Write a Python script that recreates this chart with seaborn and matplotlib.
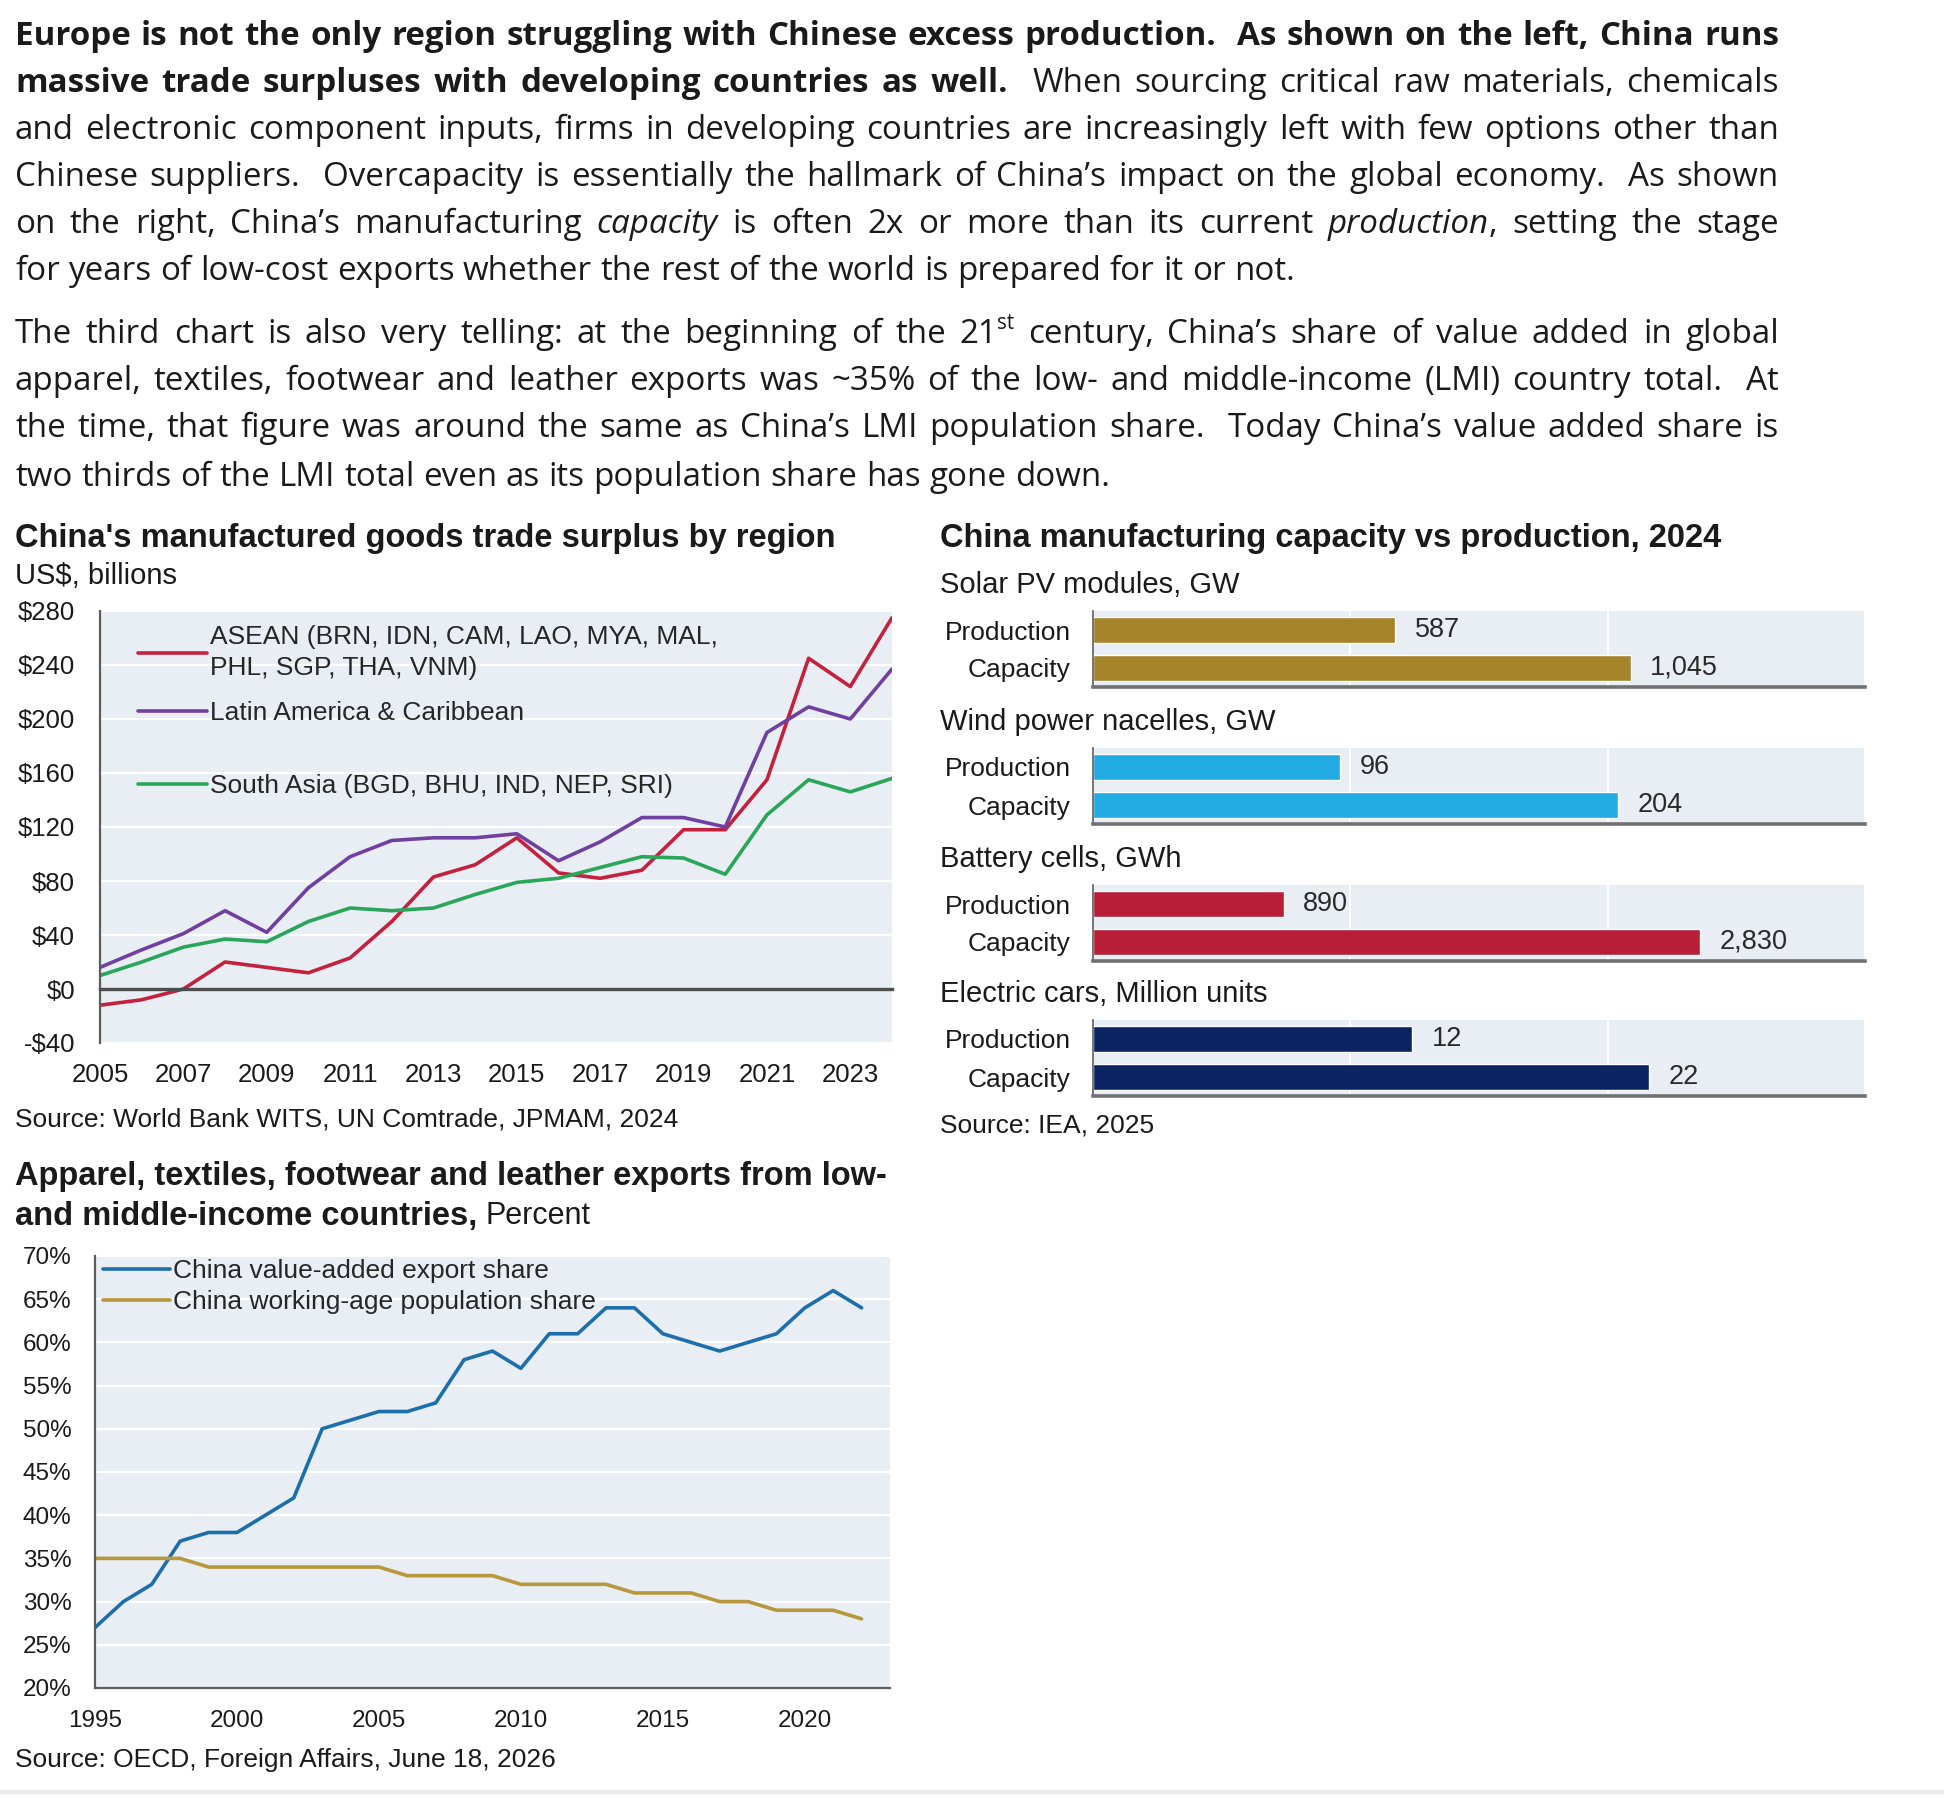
import matplotlib
matplotlib.use("Agg")
import matplotlib.pyplot as plt
from matplotlib.lines import Line2D
import numpy as np
import pandas as pd
import seaborn as sns

W, H, DPI = 1944, 1797, 100

# ── data ────────────────────────────────────────────────────
years_surplus = list(range(2005, 2025))
asean = [-12, -8, 0, 20, 16, 12, 23, 50, 83, 92, 112, 86, 82, 88, 118, 118, 155, 245, 224, 275]
latam = [16, 29, 41, 58, 42, 75, 98, 110, 112, 112, 115, 95, 109, 127, 127, 120, 190, 209, 200, 237]
south_asia = [10, 20, 31, 37, 35, 50, 60, 58, 60, 70, 79, 82, 90, 98, 97, 85, 129, 155, 146, 156]
region_names = ["ASEAN (BRN, IDN, CAM, LAO, MYA, MAL,\nPHL, SGP, THA, VNM)",
                "Latin America & Caribbean",
                "South Asia (BGD, BHU, IND, NEP, SRI)"]
region_colors = ["#c4213f", "#7040a0", "#2aa65a"]

cap_groups = ["Solar PV modules, GW", "Wind power nacelles, GW",
              "Battery cells, GWh", "Electric cars, Million units"]
cap_measures = ["Production", "Capacity"]
cap_production = [587, 96, 890, 12.4]
cap_capacity = [1045, 204, 2830, 21.6]
cap_text_prod = ["587", "96", "890", "12"]
cap_text_cap = ["1,045", "204", "2,830", "22"]
cap_xmax = [1500, 300, 3600, 30]
cap_colors = ["#a5832b", "#22aae2", "#b81f36", "#0c2461"]

years_apparel = list(range(1995, 2023))
va_share = [27, 30, 32, 37, 38, 38, 40, 42, 50, 51, 52, 52, 53, 58, 59, 57, 61, 61,
            64, 64, 61, 60, 59, 60, 61, 64, 66, 64]
pop_share = [35, 35, 35, 35, 34, 34, 34, 34, 34, 34, 34, 33, 33, 33, 33, 32, 32, 32,
             32, 31, 31, 31, 30, 30, 29, 29, 29, 28]
share_names = ["China value-added export share", "China working-age population share"]
share_colors = ["#1c6fab", "#b8983c"]

# ── body text (line breaks as in the original) ──────────────
para_lines = [
    [("Europe is not the only region struggling with Chinese excess production.  As shown on the left, China runs", "b")],
    [("massive trade surpluses with developing countries as well.", "b"), ("  When sourcing critical raw materials, chemicals", "n")],
    [("and electronic component inputs, firms in developing countries are increasingly left with few options other than", "n")],
    [("Chinese suppliers.  Overcapacity is essentially the hallmark of China’s impact on the global economy.  As shown", "n")],
    [("on the right, China’s manufacturing ", "n"), ("capacity", "i"), (" is often 2x or more than its current ", "n"),
     ("production", "i"), (", setting the stage", "n")],
    [("for years of low-cost exports whether the rest of the world is prepared for it or not.", "n")],
    [("The third chart is also very telling: at the beginning of the 21", "n"), ("st", "sup"),
     (" century, China’s share of value added in global", "n")],
    [("apparel, textiles, footwear and leather exports was ~35% of the low- and middle-income (LMI) country total.  At", "n")],
    [("the time, that figure was around the same as China’s LMI population share.  Today China’s value added share is", "n")],
    [("two thirds of the LMI total even as its population share has gone down.", "n")],
]
para_baselines = [45, 92, 139, 186, 233, 280, 343, 390, 437, 486]
para_justify = [True, True, True, True, True, False, True, True, True, False]

PANEL = "#e8eef4"
AXC = "#5c5c5c"
TXT = "#1a1a1a"
BODY_FONT = ["Open Sans", "DejaVu Sans"]
BODY_W = 1764
CH = 19

sns.set_style("white")
plt.rcParams["font.family"] = ["Liberation Sans", "DejaVu Sans"]

fig = plt.figure(figsize=(W / DPI, H / DPI), dpi=DPI)
fig.patch.set_facecolor("white")
renderer = fig.canvas.get_renderer()


def rect(l, t, r, b):
    return [l / W, 1 - b / H, (r - l) / W, (b - t) / H]


def ftext(x, y, s, **kw):
    kw.setdefault("va", "center")
    kw.setdefault("color", TXT)
    return fig.text(x / W, 1 - y / H, s, **kw)


def run_width(s, **kw):
    t = fig.text(0, 0, s, **kw)
    w = t.get_window_extent(renderer).width
    t.remove()
    return w


def piece_kw(style, size):
    kw = dict(family=BODY_FONT, fontsize=size, color=TXT)
    if style == "b":
        kw["fontweight"] = "bold"
    elif style == "i":
        kw["fontstyle"] = "italic"
    elif style == "sup":
        kw["fontsize"] = size * 0.62
    return kw


def split_words(segs):
    words = [[]]
    for text, style in segs:
        for i, p in enumerate(text.split(" ")):
            if i > 0:
                words.append([])
            if p:
                words[-1].append((p, style))
    return words


def line_layout(segs, size):
    words = split_words(segs)
    widths = [sum(run_width(p, **piece_kw(st, size)) for p, st in w) for w in words]
    space = run_width("a a", **piece_kw("n", size)) - run_width("aa", **piece_kw("n", size))
    return words, widths, space


def body_line(segs, baseline, justify, size, x0=15, width=BODY_W):
    words, widths, space = line_layout(segs, size)
    gap = (width - sum(widths)) / (len(words) - 1) if justify else space
    x = x0
    for w, ww in zip(words, widths):
        xx = x
        for p, st in w:
            kw = piece_kw(st, size)
            dy = size * 0.42 * DPI / 72 if st == "sup" else 0
            fig.text(xx / W, 1 - (baseline - dy) / H, p, va="baseline", ha="left", **kw)
            xx += run_width(p, **kw)
        x += ww + gap


# pick the body size so the fullest justified line only just fits
natural = []
for segs, just in zip(para_lines, para_justify):
    if just:
        words, widths, space = line_layout(segs, 20)
        natural.append(sum(widths) + space * (len(words) - 1))
body_size = 20 * BODY_W * 0.985 / max(natural)

for segs, yb, just in zip(para_lines, para_baselines, para_justify):
    body_line(segs, yb, just, body_size)

# ══════════════════════════════════════════════════════════════
# 1. trade surplus by region
# ══════════════════════════════════════════════════════════════
ax1 = fig.add_axes(rect(100, 611, 892, 1043))
surplus = pd.DataFrame({"year": years_surplus, region_names[0]: asean,
                        region_names[1]: latam, region_names[2]: south_asia})
long1 = surplus.melt(id_vars="year", var_name="region", value_name="usd")
sns.lineplot(data=long1, x="year", y="usd", hue="region", hue_order=region_names,
             palette=region_colors, linewidth=2.6, legend=False, ax=ax1)
ax1.set_facecolor(PANEL)
ax1.set_xlim(2005, 2024)
ax1.set_ylim(-40, 280)
yt = np.arange(-40, 281, 40)
ax1.set_yticks(yt)
ax1.set_yticklabels([f"-\\${-v}" if v < 0 else f"\\${v}" for v in yt])
ax1.set_xticks(range(2005, 2024, 2))
ax1.set_xlabel("")
ax1.set_ylabel("")
ax1.grid(axis="y", color="white", linewidth=1.6)
ax1.grid(axis="x", visible=False)
ax1.set_axisbelow(True)
for s in ["top", "right"]:
    ax1.spines[s].set_visible(False)
ax1.spines["bottom"].set_position(("data", 0))
ax1.spines["bottom"].set_color("#4d4d4d")
ax1.spines["bottom"].set_linewidth(2.4)
ax1.spines["left"].set_color(AXC)
ax1.spines["left"].set_linewidth(1.6)
ax1.tick_params(axis="x", direction="out", length=7, width=1.5, color="#333", pad=46,
                labelsize=18.5, labelcolor=TXT)
ax1.tick_params(axis="y", direction="out", length=6, width=1.5, color="#333", pad=12,
                labelsize=18.5, labelcolor=TXT)

leg_a = ax1.legend(ax1.lines[:2], region_names[:2], loc="upper left",
                   bbox_to_anchor=(38 / 792, (1043 - 625) / 432), frameon=False,
                   fontsize=CH, borderpad=0, borderaxespad=0, handlelength=2.6,
                   handletextpad=0.12, labelspacing=0.78)
for t in leg_a.get_texts():
    t.set_linespacing(1.38)
ax1.add_artist(leg_a)
ax1.legend(ax1.lines[2:3], region_names[2:3], loc="upper left",
           bbox_to_anchor=(38 / 792, (1043 - 774) / 432), frameon=False,
           fontsize=CH, borderpad=0, borderaxespad=0, handlelength=2.6,
           handletextpad=0.12)

ftext(15, 538, "China's manufactured goods trade surplus by region", fontsize=23.5, fontweight="bold")
ftext(15, 576, "US\\$, billions", fontsize=21)
ftext(15, 1120, "Source: World Bank WITS, UN Comtrade, JPMAM, 2024", fontsize=19)

# ══════════════════════════════════════════════════════════════
# 2. capacity vs production
# ══════════════════════════════════════════════════════════════
panel_tops = [611, 748, 885, 1020]
for i, top in enumerate(panel_tops):
    ax = fig.add_axes(rect(1093, top, 1865, top + 76))
    dfb = pd.DataFrame({"measure": cap_measures,
                        "value": [cap_production[i], cap_capacity[i]]})
    sns.barplot(data=dfb, x="value", y="measure", orient="h", color=cap_colors[i],
                saturation=1, width=0.66, ax=ax)
    ax.bar_label(ax.containers[0], labels=[cap_text_prod[i], cap_text_cap[i]],
                 padding=14, fontsize=19.5, color="#2a2a2a")
    ax.set_facecolor(PANEL)
    ax.set_xlim(0, cap_xmax[i])
    ax.set_ylim(1.5, -0.5)
    ax.set_xticks(np.linspace(0, cap_xmax[i], 4))
    ax.set_xticklabels([])
    ax.set_yticks([-0.5, 0.5, 1.5], minor=True)
    ax.set_xlabel("")
    ax.set_ylabel("")
    ax.grid(axis="x", color="white", linewidth=1.5)
    ax.grid(axis="y", visible=False)
    ax.set_axisbelow(True)
    for s in ["top", "right"]:
        ax.spines[s].set_visible(False)
    ax.spines["bottom"].set_color("#707070")
    ax.spines["bottom"].set_linewidth(2.6)
    ax.spines["left"].set_color(AXC)
    ax.spines["left"].set_linewidth(1.2)
    ax.tick_params(axis="x", direction="out", length=6, width=1.5, color="#222")
    ax.tick_params(axis="y", which="major", length=0, pad=16, labelsize=19, labelcolor=TXT)
    ax.tick_params(axis="y", which="minor", direction="out", length=5, width=1.2, color="#333")
    ftext(940, top - 26, cap_groups[i], fontsize=21)

ftext(940, 538, "China manufacturing capacity vs production, 2024", fontsize=23.5, fontweight="bold")
ftext(940, 1126, "Source: IEA, 2025", fontsize=19)

# ══════════════════════════════════════════════════════════════
# 3. apparel export shares
# ══════════════════════════════════════════════════════════════
ax3 = fig.add_axes(rect(95, 1256, 890, 1688))
shares = pd.DataFrame({"year": years_apparel, share_names[0]: va_share, share_names[1]: pop_share})
long3 = shares.melt(id_vars="year", var_name="series", value_name="pct")
sns.lineplot(data=long3, x="year", y="pct", hue="series", hue_order=share_names,
             palette=share_colors, linewidth=2.6, legend=False, ax=ax3)
ax3.set_facecolor(PANEL)
ax3.set_xlim(1995, 2023)
ax3.set_ylim(20, 70)
yt3 = np.arange(20, 71, 5)
ax3.set_yticks(yt3)
ax3.set_yticklabels([f"{v}%" for v in yt3])
ax3.set_xticks(range(1995, 2021, 5))
ax3.set_xlabel("")
ax3.set_ylabel("")
ax3.grid(axis="y", color="white", linewidth=1.6)
ax3.grid(axis="x", visible=False)
ax3.set_axisbelow(True)
for s in ["top", "right"]:
    ax3.spines[s].set_visible(False)
for s in ["left", "bottom"]:
    ax3.spines[s].set_color(AXC)
    ax3.spines[s].set_linewidth(1.6)
ax3.tick_params(axis="both", direction="out", length=6, width=1.5, color="#333",
                labelsize=17.5, labelcolor=TXT)
ax3.tick_params(axis="x", pad=10)
ax3.tick_params(axis="y", pad=11)
ax3.legend(ax3.lines[:2], share_names, loc="upper left",
           bbox_to_anchor=(8 / 795, (1688 - 1259) / 432), frameon=False, fontsize=CH,
           borderpad=0, borderaxespad=0, handlelength=2.55, handletextpad=0.12,
           labelspacing=0.26)

ftext(15, 1177, "Apparel, textiles, footwear and leather exports from low-", fontsize=23.5, fontweight="bold")
t_b = ftext(15, 1216, "and middle-income countries,", fontsize=23.5, fontweight="bold")
bw = t_b.get_window_extent(renderer).width
ftext(15 + bw + 8, 1216, "Percent", fontsize=22)
ftext(15, 1760, "Source: OECD, Foreign Affairs, June 18, 2026", fontsize=19)

fig.add_artist(Line2D([0, 1], [1 - 1792 / H] * 2, transform=fig.transFigure,
                      color="#ececec", linewidth=3))

fig.savefig("out.png", dpi=DPI)
